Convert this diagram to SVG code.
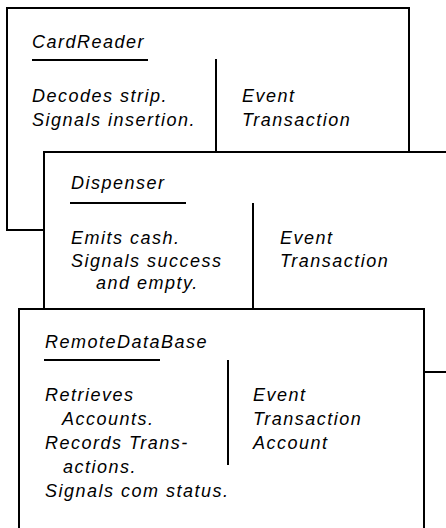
<svg xmlns="http://www.w3.org/2000/svg" width="446" height="528" viewBox="0 0 446 528">
<style>
.card{fill:#fff;stroke:#000;stroke-width:2}
.ln{stroke:#000;stroke-width:2;fill:none}
text{font-family:"Liberation Sans",Arial,sans-serif;font-style:italic;font-size:18px;letter-spacing:1.5px;fill:#000}
</style>
<rect width="446" height="528" fill="#fff"/>
<g id="CardReader">
<rect class="card" x="7" y="8" width="402" height="222"/>
<text x="32" y="48">CardReader</text>
<line class="ln" x1="32" y1="60" x2="148" y2="60"/>
<line class="ln" x1="216" y1="59" x2="216" y2="152"/>
<text x="32" y="102">Decodes strip.</text>
<text x="32" y="126">Signals insertion.</text>
<text x="242" y="102">Event</text>
<text x="242" y="126">Transaction</text>
</g>
<g id="Dispenser">
<rect class="card" x="44" y="152" width="420" height="220"/>
<text x="71" y="189">Dispenser</text>
<line class="ln" x1="70" y1="203" x2="186" y2="203"/>
<line class="ln" x1="253" y1="203" x2="253" y2="309"/>
<text x="71" y="244">Emits cash.</text>
<text x="71" y="267">Signals success</text>
<text x="96" y="289">and empty.</text>
<text x="280" y="244">Event</text>
<text x="280" y="267">Transaction</text>
</g>
<g id="RemoteDataBase">
<rect class="card" x="19" y="309" width="405" height="240"/>
<text x="45" y="348">RemoteDataBase</text>
<line class="ln" x1="44" y1="360" x2="160" y2="360"/>
<line class="ln" x1="228" y1="360" x2="228" y2="465"/>
<text x="45" y="401">Retrieves</text>
<text x="62" y="425">Accounts.</text>
<text x="45" y="449">Records Trans-</text>
<text x="63" y="473">actions.</text>
<text x="45" y="497">Signals com status.</text>
<text x="253" y="401">Event</text>
<text x="253" y="425">Transaction</text>
<text x="253" y="449">Account</text>
</g>
<g id="connectors"></g>
</svg>
